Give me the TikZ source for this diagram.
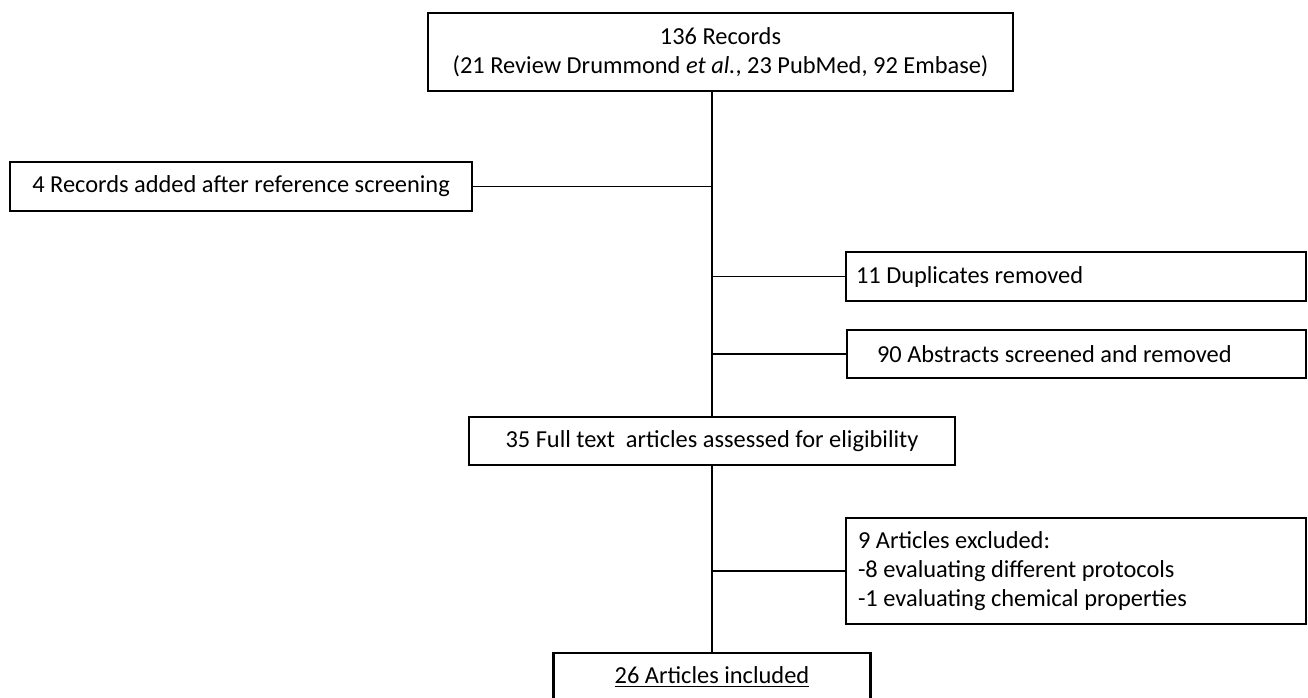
\documentclass[tikz,border=0pt]{standalone}
\usepackage{fontspec}
\setmainfont{Carlito}
\begin{document}
\begin{tikzpicture}[x=0.5pt,y=-0.5pt,
  every node/.style={font=\fontsize{12.2}{14.6}\selectfont},
  box/.style={draw,line width=1.2pt,inner sep=0pt,align=center},
  sidebox/.style={draw,line width=1.2pt,inner ysep=0pt,align=flush left},
  link/.style={line width=0.8pt}]
  \useasboundingbox (0,0) rectangle (1308,697);
  % main column
  \node[box,minimum width=292.5pt,minimum height=39pt] (recs) at (720.5,52) {136 Records\\(21 Review Drummond \textit{et al.}, 23 PubMed, 92 Embase)};
  \node[box,minimum width=243pt,minimum height=24pt] (full) at (712,441) {35 Full text\ \ articles assessed for eligibility};
  \node[box,minimum width=158.5pt,minimum height=24pt] (incl) at (712,677) {\underline{26 Articles included}};
  % side boxes
  \node[box,minimum width=231pt,minimum height=24.5pt] (added) at (241,186.5) {4 Records added after reference screening};
  \node[sidebox,inner xsep=5pt,text width=220pt,minimum height=24.5pt] (dupl) at (1076,276.5) {11 Duplicates removed};
  \node[sidebox,inner xsep=15pt,text width=199.5pt,minimum height=24pt] (abstr) at (1076.5,354) {90 Abstracts screened and removed};
  \node[sidebox,inner xsep=6pt,text width=218pt,minimum height=53pt] (excl) at (1076,571) {9 Articles excluded:\\-8 evaluating different protocols\\-1 evaluating chemical properties};
  % connectors
  \draw[link] (recs.south -| full.north) -- (full.north);
  \draw[link] (full.south) -- (incl.north);
  \draw[link] (added.east) -- (added.east -| full.north);
  \draw[link] (dupl.west -| full.north) -- (dupl.west);
  \draw[link] (abstr.west -| full.north) -- (abstr.west);
  \draw[link] (excl.west -| incl.north) -- (excl.west);
\end{tikzpicture}
\end{document}
